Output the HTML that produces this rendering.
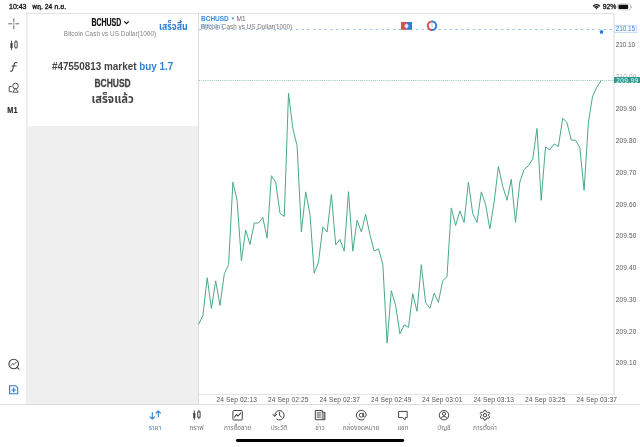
<!DOCTYPE html>
<html lang="th">
<head>
<meta charset="utf-8">
<title>BCHUSD</title>
<style>
*{margin:0;padding:0;box-sizing:border-box}
html,body{width:640px;height:447px;overflow:hidden;background:#fff}
body{font-family:"Liberation Sans","Noto Sans Thai","Loma",sans-serif;color:#222;position:relative}
.abs{position:absolute;white-space:nowrap;line-height:1}
#status-time{left:9px;top:3px;font-size:7px;color:#111;-webkit-text-stroke:.3px #111}
#status-date{left:32.2px;top:3.6px;font-size:6.8px;color:#111;-webkit-text-stroke:.3px #111}
#batt-pct{left:602.7px;top:3.7px;font-size:6.8px;color:#111;-webkit-text-stroke:.3px #111}
#panel-border-l{left:26px;top:13px;width:2px;height:391px;background:#efefef}
#panel{left:28px;top:13px;width:170px;height:113px;background:#fff;border-top:1px solid #e6e6e6}
#greyfill{left:28px;top:126px;width:170px;height:278px;background:#efefef}
#vline{left:198px;top:13px;width:1px;height:391px;background:#dcdcdc}
#topline{left:26px;top:13px;width:589px;height:1px;background:#e2e2e2}
#axisline{left:613px;top:13px;width:2px;height:382px;background:#ececec}
#botaxis{left:199px;top:394.2px;width:416px;height:1px;background:#e4e4e4}
#tabline{left:0;top:403.5px;width:640px;height:1px;background:#dedede}
.cond{display:inline-block;transform-origin:50% 50%;font-weight:bold}
.ctr{position:absolute;white-space:nowrap;line-height:1;text-align:center}
.plab{position:absolute;left:615.8px;font-size:6.5px;letter-spacing:.15px;color:#555;line-height:1;white-space:nowrap}
.tlab{position:absolute;top:396.8px;font-size:6.6px;letter-spacing:.1px;color:#555;line-height:1;white-space:nowrap}
.tab{position:absolute;top:425.2px;width:60px;margin-left:-30px;text-align:center;font-size:6.5px;color:#777;line-height:1;white-space:nowrap}
.tab.on{color:#2f7fd6}
svg{position:absolute;left:0;top:0}
</style>
</head>
<body>
<div class="abs" id="status-time">10:43</div>
<div class="abs" id="status-date">พฤ. 24 ก.ย.</div>
<div class="abs" id="batt-pct">92%</div>

<div class="abs" id="panel-border-l"></div>
<div class="abs" id="greyfill"></div>
<div class="abs" id="panel"></div>
<div class="abs" id="topline"></div>
<div class="abs" id="vline"></div>
<div class="abs" id="axisline"></div>
<div class="abs" id="botaxis"></div>
<div class="abs" id="tabline"></div>

<!-- dialog header -->
<div class="ctr" style="left:56.6px;width:100px;top:18.1px;font-size:10.0px;color:#111"><span class="cond" style="transform:scaleX(0.697);-webkit-text-stroke:0.2px #111">BCHUSD</span></div>
<div class="ctr" style="left:40px;width:140px;top:30.6px;font-size:6.45px;color:#858585">Bitcoin Cash vs US Dollar(1000)</div>
<div class="abs" style="left:159px;top:20.5px;font-size:10.6px;color:#2f7fd6"><span class="cond" style="transform-origin:0 50%;transform:scaleX(.83)">เสร็จสิ้น</span></div>

<!-- dialog body -->
<div class="ctr" style="left:28px;width:169px;top:61px;font-size:11px;color:#444"><span class="cond" style="transform:scaleX(.898)">#47550813 market <span style="color:#2f7fd6">buy 1.7</span></span></div>
<div class="ctr" style="left:28px;width:169px;top:77.5px;font-size:11px;color:#444"><span class="cond" style="transform:scaleX(.77);-webkit-text-stroke:.3px #444">BCHUSD</span></div>
<div class="ctr" style="left:28px;width:169px;top:94px;font-size:11.5px;color:#444"><span class="cond" style="transform:scaleX(.98)">เสร็จแล้ว</span></div>

<!-- sidebar M1 -->
<div class="ctr" style="left:-1.2px;width:27px;top:106px;font-size:9.2px;color:#333"><span class="cond" style="transform:scaleX(.8);-webkit-text-stroke:.2px #333">M1</span></div>

<!-- chart header -->
<div class="abs" style="left:201px;top:15.5px;font-size:6.5px;color:#3b8be0;font-weight:bold">BCHUSD<span style="font-size:4.2px;position:relative;top:-.6px;margin:0 1.6px 0 2px">&#9660;</span><span style="color:#666;font-weight:normal">M1</span></div>
<div class="abs" style="left:201px;top:23.6px;font-size:6.36px;color:#777">Bitcoin Cash vs US Dollar(1000)</div>
<div class="abs" style="left:201px;top:22.5px;font-size:6px;color:#5a9be6;opacity:.8">BUY 1.7</div>

<!-- price labels -->
<div class="plab" style="top:73.5px;color:#aaa">210.00</div>
<div class="plab" style="top:42.2px;letter-spacing:-.1px;">210.10</div>
<div class="plab" style="top:105.8px;">209.90</div>
<div class="plab" style="top:137.9px;">209.80</div>
<div class="plab" style="top:169.7px;">209.70</div>
<div class="plab" style="top:201.5px;">209.60</div>
<div class="plab" style="top:233.2px;">209.50</div>
<div class="plab" style="top:265.0px;">209.40</div>
<div class="plab" style="top:296.7px;">209.30</div>
<div class="plab" style="top:328.5px;">209.20</div>
<div class="plab" style="top:360.2px;">209.10</div>
<div class="abs" style="left:614px;top:25.2px;width:22.6px;height:7.5px;background:#fbfdff;border:1px solid #c9dff8"></div>
<div class="plab" style="top:26.4px;color:#3b80d4;letter-spacing:-.1px">210.15</div>
<div class="abs" style="left:614.3px;top:76.7px;width:25.7px;height:6.7px;background:#2f9c8f"></div>
<div class="plab" style="top:77.6px;color:#e8fffb;letter-spacing:.42px;left:616.2px">209.99</div>

<!-- time labels -->
<div class="tlab" style="left:216.5px">24 Sep 02:13</div>
<div class="tlab" style="left:268px">24 Sep 02:25</div>
<div class="tlab" style="left:319.5px">24 Sep 02:37</div>
<div class="tlab" style="left:371px">24 Sep 02:49</div>
<div class="tlab" style="left:422px">24 Sep 03:01</div>
<div class="tlab" style="left:473.5px">24 Sep 03:13</div>
<div class="tlab" style="left:525px">24 Sep 03:25</div>
<div class="tlab" style="left:576.5px">24 Sep 03:37</div>

<!-- tab labels -->
<div class="tab on" style="left:155px">ราคา</div>
<div class="tab" style="left:196.5px">กราฟ</div>
<div class="tab" style="left:237.5px">การซื้อขาย</div>
<div class="tab" style="left:279px">ประวัติ</div>
<div class="tab" style="left:320px">ข่าว</div>
<div class="tab" style="left:361px">กล่องจดหมาย</div>
<div class="tab" style="left:403px">แชท</div>
<div class="tab" style="left:444px">บัญชี</div>
<div class="tab" style="left:485px">การตั้งค่า</div>

<svg width="640" height="447" viewBox="0 0 640 447" fill="none">
<!-- chart lines -->
<line x1="199" y1="29.5" x2="614" y2="29.5" stroke="#9dc3ec" stroke-width="1" stroke-dasharray="2.4 3.3"/>
<line x1="199" y1="80.5" x2="614" y2="80.5" stroke="#4a9e95" stroke-opacity=".6" stroke-width="1" stroke-dasharray="1 1.12"/>
<polyline stroke="#49aa89" stroke-width="1" stroke-linejoin="round" points="198.6,324.5 202.9,315.5 207.2,277.8 211.4,308.4 215.7,280.8 220.0,305.4 224.3,273.8 228.6,264.5 232.9,182.2 237.1,200.3 241.4,260.7 245.7,230.1 250.0,244.4 254.3,223 258.6,223 262.8,217.4 267.1,238 271.4,175.8 275.7,182.2 280.0,213.4 284.3,216.4 288.5,93.1 292.8,128.3 297.1,145.8 301.4,232.1 305.7,191.9 310.0,214.4 314.2,273.2 318.5,262.1 322.8,226.9 327.1,232 331.4,194.5 335.7,244.8 339.9,239.4 344.2,251.1 348.5,191.7 352.8,251.1 357.1,220.3 361.4,232 365.6,214.3 369.9,234.4 374.2,251.1 378.5,248.9 382.8,264.1 387.1,343.1 391.3,290.6 395.6,305.3 399.9,333.9 404.2,324.8 408.5,327.4 412.7,293.6 417.0,311.3 421.3,264.7 425.6,302.7 429.9,308.3 434.2,293.2 438.4,302.3 442.7,280.6 447.0,276.7 451.3,207.9 455.6,225.5 459.9,211 464.1,222.4 468.4,182.2 472.7,213.4 477.0,222.4 481.3,191.9 485.6,204.3 489.8,228.9 494.1,202.3 498.4,166.5 502.7,186.2 507.0,200.3 511.3,179.2 515.5,222.4 519.8,182.2 524.1,169.5 528.4,165.7 532.7,159.1 537.0,128.4 541.2,200.3 545.5,146.9 549.8,149.9 554.1,144 558.4,146.5 562.7,118.3 566.9,122.3 571.2,140 575.5,140.4 579.8,147.5 584.1,190.3 588.4,122.3 592.6,96.2 596.9,87.1 601.2,80.5"/>
<!-- trade marker icons -->
<rect x="401" y="22" width="5.5" height="7.8" fill="#d4534f"/>
<rect x="406.5" y="22" width="5.5" height="7.8" fill="#2f7fd6"/>
<circle cx="406.5" cy="25.9" r="2" fill="#e9e3ea"/>
<path d="M432 21.6a4.2 4.2 0 0 0 0 8.4" stroke="#d4534f" stroke-width="2"/>
<path d="M432 21.6a4.2 4.2 0 0 1 0 8.4" stroke="#2f7fd6" stroke-width="2"/>
<path d="M431.9 23.7v2.3l1.1 1" stroke="#7aa7dd" stroke-width=".6"/>
<path d="M601.5 29.8l2 1.5-.8 2.4h-2.4l-.8-2.4z" fill="#2f7fd6"/>

<!-- status icons -->
<g stroke="#111" stroke-width="1.400" fill="none">
<path d="M593.18 6.18A4.7 4.7 0 0 1 599.82 6.18"/>
<path d="M594.52 7.52A2.8 2.8 0 0 1 598.48 7.52"/>
<path d="M596.5 9.5L595.55 8.55A1.35 1.35 0 0 1 597.45 8.55Z" fill="#111" stroke="none"/>
</g>
<rect x="617.700" y="3.900" width="12.800" height="5.900" rx="1.700" stroke="#aaa" stroke-width=".6"/>
<rect x="618.500" y="4.700" width="9.700" height="4.300" rx="1.100" fill="#111"/>
<path d="M631.200 5.900v2a1 1 0 0 0 0-2z" fill="#aaa"/>

<!-- home indicator -->
<rect x="236" y="439" width="168.200" height="2.900" rx="1.450" fill="#000"/>

<!-- sidebar icons -->
<g stroke="#555" stroke-width=".9" stroke-linecap="round">
<path d="M13.8 18.8v3M13.8 25.8v3M8.8 23.8h3M15.8 23.8h3"/>
<path d="M13.8 23.3v1" stroke-width=".7"/>
</g>
<g stroke="#444" stroke-width=".9">
<path d="M11.5 40.5v9.5M16 40v9"/>
<rect x="10.4" y="43" width="2.2" height="5" fill="#444" stroke="none"/>
<rect x="14.8" y="42" width="2.4" height="5.2" fill="#fff"/>
</g>
<path d="M17 62.7c-1.5-.6-2.4.2-2.9 1.8l-1.4 5c-.4 1.4-1.100 2-2.2 1.600M12 65.900h4.300" stroke="#444" stroke-width="1.050" stroke-linecap="round"/>
<g stroke="#444" stroke-width=".9">
<circle cx="15.5" cy="86" r="2.8"/>
<path d="M15.500 88.500l2.700 3.700h-5.400z" fill="#fff"/>
<path d="M11.600 86.500h-2.400v5.200h2.900"/>
</g>
<g stroke="#444" stroke-width=".9" stroke-linecap="round">
<circle cx="13.700" cy="364" r="4.800" stroke-width="1.100"/>
<path d="M17.300 367.600l1.700 1.600" stroke-width="1.100"/>
<path d="M11.100 365.300l1.600-1.700 1.300 1 2.200-2.400" stroke-width=".9"/>
</g>
<g stroke="#2f7fd6" stroke-width="1.100">
<path d="M9.600 385.700h5.900l2.200 2v6h-8.100z" fill="#f4f8fe"/>
<path d="M11.5 390h4.4M13.7 387.8v4.4" stroke-width="1.2"/>
</g>

<!-- header chevron -->
<path d="M124.300 21.400l2.200 2.200 2.200-2.200" stroke="#111" stroke-width="1.250" />

<!-- tab icons -->
<g stroke="#2f7fd6" stroke-width="1.1" stroke-linecap="round" stroke-linejoin="round">
<path d="M152.3 412.6v6.4M150.1 416.9l2.2 2.3 2.2-2.3"/>
<path d="M158.3 417v-6M156.1 413.1l2.2-2.3 2.2 2.3"/>
</g>
<g stroke="#444" stroke-width="1">
<path d="M194.3 410.5v9.5M198.9 410v9"/>
<rect x="193.2" y="413" width="2.2" height="5" fill="#444" stroke="none"/>
<rect x="197.7" y="412" width="2.4" height="5.2" fill="#fff"/>
</g>
<g stroke="#444" stroke-width="1" stroke-linejoin="round">
<rect x="232.900" y="410.500" width="9.400" height="9.500" rx=".9" stroke-width="1"/>
<path d="M234.300 417.500l2.200-3 1.600 1.500 3-3.300" stroke-width="1.100"/>
</g>
<g stroke="#444" stroke-width="1" stroke-linecap="round" stroke-linejoin="round">
<path d="M274.770 416A4.700 4.700 0 1 1 276.700 419.150" stroke-width="1"/>
<path d="M272.800 414.300l1.900 2 2-1.900" stroke-width="1"/>
<path d="M279.400 412.300v3.100l2.100 1.600" stroke-width="1"/>
</g>
<g stroke="#444" stroke-width="1" stroke-linejoin="round">
<path d="M315.3 410.5h7v9.2h-7z"/>
<path d="M322.3 412.3h2.6v7.4h-2.6" fill="#aaa"/>
<path d="M316.700 412.900h4.200M316.700 415h4.200M316.700 417.100h4.200" stroke-width="1"/>
</g>
<g stroke="#444" stroke-width="1" stroke-linecap="round">
<circle cx="361.3" cy="415.2" r="2"/>
<path d="M363.3 413.2v2.7c0 1.6 2.9 1.6 2.9-.9a4.9 4.9 0 1 0-2.1 4.2"/>
</g>
<path d="M398.6 411.4h8.6v6.2h-2v2.2l-2.4-2.2h-4.2z" stroke="#444" stroke-width="1" stroke-linejoin="round"/>
<g stroke="#444" stroke-width="1">
<circle cx="444" cy="415.2" r="4.7"/>
<circle cx="444" cy="413.8" r="1.6"/>
<path d="M440.8 418.4c.8-2.4 5.6-2.4 6.4 0"/>
</g>
<g stroke="#444" stroke-width="1" stroke-linejoin="round">
<circle cx="485" cy="415.2" r="1.7"/>
<path d="M484.1 410.4h1.8l.4 1.4 1.1.6 1.4-.4.9 1.5-1 1.1v1.2l1 1.1-.9 1.5-1.4-.4-1.1.6-.4 1.4h-1.8l-.4-1.4-1.1-.6-1.4.4-.9-1.5 1-1.1v-1.2l-1-1.1.9-1.5 1.4.4 1.1-.6z"/>
</g>
</svg>
</body>
</html>
